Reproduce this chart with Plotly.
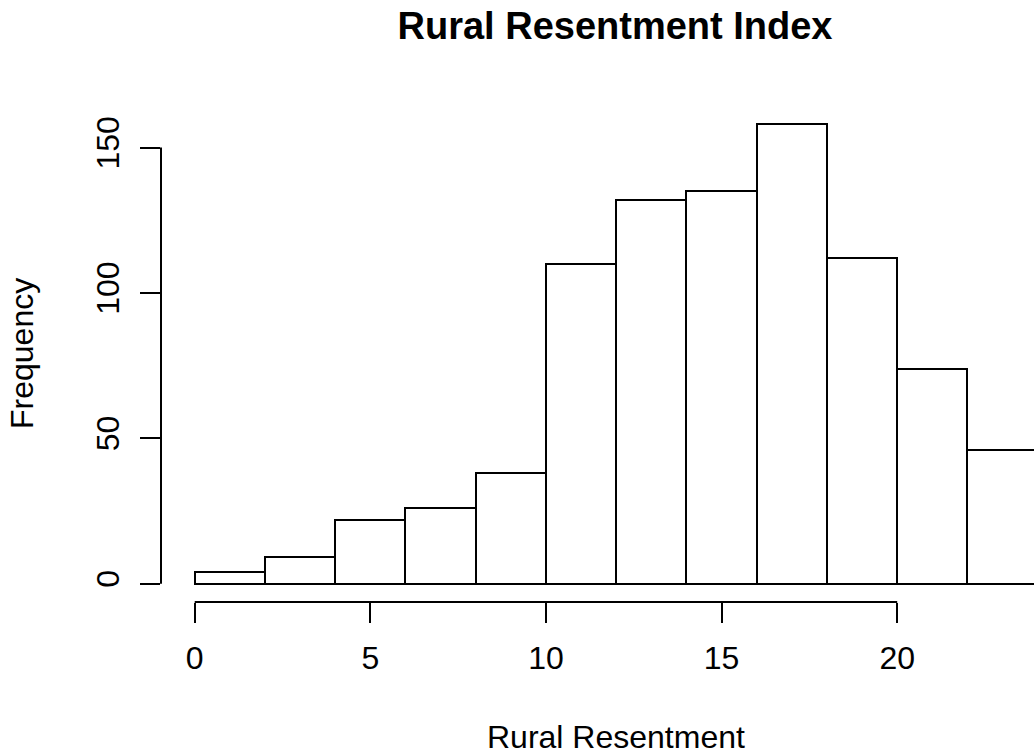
import plotly.graph_objects as go

# Data
bin_starts = [0, 2, 4, 6, 8, 10, 12, 14, 16, 18, 20, 22]
bin_width = 2
counts = [4, 9, 22, 26, 38, 110, 132, 135, 158, 112, 74, 46]
x_ticks = [0, 5, 10, 15, 20]
y_ticks = [0, 50, 100, 150]

W, H = 1034, 756
FONT = "Liberation Sans, Arial, Helvetica, sans-serif"

centers = [s + bin_width / 2 for s in bin_starts]

fig = go.Figure()
fig.add_trace(go.Bar(
    x=centers, y=counts, width=[bin_width] * len(counts),
    marker=dict(color="white", line=dict(color="black", width=2)),
    showlegend=False, hoverinfo="skip",
))

fig.update_layout(
    width=W, height=H,
    margin=dict(l=161, r=0, t=106, b=154),
    paper_bgcolor="white", plot_bgcolor="white",
    font=dict(family=FONT, size=32, color="black"),
    bargap=0,
    title=dict(text="<b>Rural Resentment Index</b>", font=dict(size=38, family=FONT),
               x=615 / W, xanchor="center", xref="container",
               y=1 - 26 / H, yanchor="middle", yref="container"),
    xaxis=dict(range=[-0.96, 23.895], showgrid=False, zeroline=False, showline=False,
               tickmode="array", tickvals=x_ticks, ticktext=[str(v) for v in x_ticks],
               ticks="outside", ticklen=20, tickwidth=2, tickcolor="black",
               ticklabelstandoff=8, tickfont=dict(size=32)),
    yaxis=dict(range=[-6.32, 164.32], showgrid=False, zeroline=False, showline=False,
               tickmode="array", tickvals=y_ticks, ticktext=[str(v) for v in y_ticks],
               ticks="outside", ticklen=20, tickwidth=2, tickcolor="black",
               tickangle=-90, ticklabelstandoff=8, tickfont=dict(size=32)),
    shapes=[
        dict(type="line", xref="x", yref="paper", x0=x_ticks[0], x1=x_ticks[-1], y0=0, y1=0,
             line=dict(color="black", width=2), layer="above"),
        dict(type="line", xref="paper", yref="y", x0=0, x1=0, y0=y_ticks[0], y1=y_ticks[-1],
             line=dict(color="black", width=2), layer="above"),
    ],
    annotations=[
        dict(text="Rural Resentment", xref="x", yref="paper", x=12, y=-(737 - 601.7) / (601.7 - 106),
             xanchor="center", yanchor="middle", showarrow=False, font=dict(size=32, family=FONT)),
        dict(text="Frequency", xref="paper", yref="paper", x=-(161 - 22) / (W - 161), y=0.5,
             xanchor="center", yanchor="middle", textangle=-90, showarrow=False,
             font=dict(size=32, family=FONT)),
    ],
)

fig.write_html("out.html")
